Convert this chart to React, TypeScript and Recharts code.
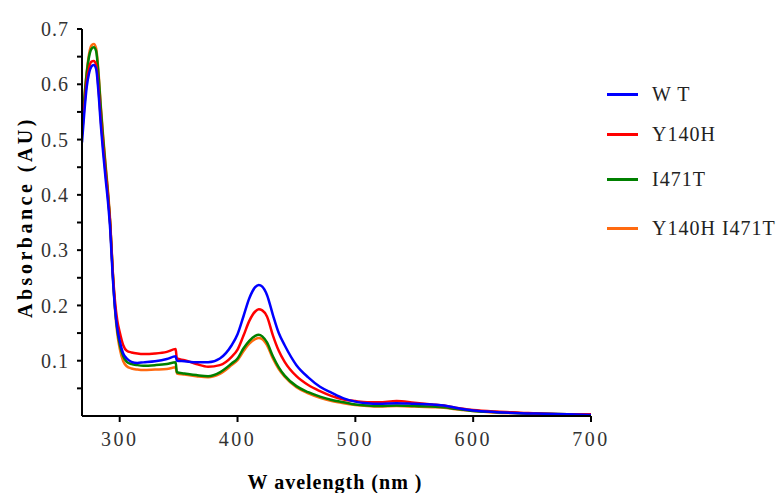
import { LineChart, Line, XAxis, YAxis, Label } from "recharts";

// wavelength grid (nm) shared by all four spectra
const wavelengths = [
  268, 270, 272, 274, 276, 278, 280, 282, 284, 286, 288, 290, 292, 294, 296, 298, 300,
  303, 306, 310, 315, 320, 330, 340, 347.5, 348.5, 355, 365, 375, 385, 395, 400, 405,
  410, 415, 418, 421, 425, 430, 435, 440, 450, 460, 470, 480, 490, 500, 510, 520, 535,
  550, 565, 575, 585, 600, 620, 640, 660, 680, 700,
];

const wt = [
  0.495, 0.55, 0.595, 0.62, 0.632, 0.635, 0.628, 0.585, 0.525, 0.475, 0.43, 0.388, 0.335, 0.255, 0.195, 0.158, 0.136,
  0.113, 0.104, 0.098, 0.096, 0.097, 0.099, 0.103, 0.108, 0.1, 0.099, 0.097, 0.097, 0.104, 0.128, 0.148, 0.18,
  0.213, 0.233, 0.237, 0.234, 0.219, 0.183, 0.15, 0.128, 0.092, 0.07, 0.053, 0.042, 0.032, 0.026, 0.023, 0.022, 0.023,
  0.022, 0.021, 0.019, 0.015, 0.01, 0.007, 0.005, 0.004, 0.003, 0.002,
];

const y140h = [
  0.51, 0.56, 0.605, 0.63, 0.641, 0.642, 0.635, 0.593, 0.535, 0.485, 0.44, 0.398, 0.345, 0.265, 0.208, 0.172, 0.152,
  0.128, 0.118, 0.115, 0.113, 0.112, 0.113, 0.116, 0.121, 0.104, 0.101, 0.094, 0.089, 0.092, 0.107, 0.12, 0.145,
  0.172, 0.189, 0.193, 0.191, 0.18, 0.146, 0.118, 0.098, 0.072, 0.056, 0.045, 0.036, 0.03, 0.027, 0.025, 0.025, 0.027,
  0.024, 0.021, 0.019, 0.015, 0.011, 0.008, 0.006, 0.004, 0.003, 0.003,
];

const i471t = [
  0.523, 0.575, 0.62, 0.65, 0.664, 0.667, 0.66, 0.617, 0.555, 0.5, 0.45, 0.403, 0.345, 0.262, 0.198, 0.155, 0.13,
  0.108, 0.098, 0.094, 0.092, 0.091, 0.092, 0.094, 0.097, 0.079, 0.077, 0.074, 0.072, 0.079, 0.095, 0.104, 0.122,
  0.136, 0.145, 0.147, 0.144, 0.133, 0.108, 0.088, 0.073, 0.054, 0.043, 0.035, 0.029, 0.025, 0.021, 0.019, 0.018, 0.019,
  0.018, 0.017, 0.016, 0.013, 0.009, 0.007, 0.005, 0.004, 0.003, 0.002,
];

const y140hI471t = [
  0.52, 0.575, 0.622, 0.655, 0.67, 0.673, 0.665, 0.622, 0.56, 0.505, 0.455, 0.408, 0.35, 0.265, 0.193, 0.148, 0.122,
  0.099, 0.09, 0.086, 0.084, 0.083, 0.084, 0.085, 0.088, 0.077, 0.075, 0.072, 0.07, 0.076, 0.092, 0.101, 0.117,
  0.131, 0.139, 0.141, 0.139, 0.128, 0.104, 0.085, 0.071, 0.052, 0.041, 0.033, 0.027, 0.023, 0.02, 0.018, 0.017, 0.018,
  0.017, 0.016, 0.015, 0.012, 0.009, 0.006, 0.005, 0.004, 0.003, 0.002,
];

const xTicks = [300, 400, 500, 600, 700];
const yMajor = [0.1, 0.2, 0.3, 0.4, 0.5, 0.6, 0.7];
const yMinor = [0.05, 0.15, 0.25, 0.35, 0.45, 0.55, 0.65];

// drawn back to front: orange, green, red, blue on top
const series = [
  { key: "y140hI471t", name: "Y140H I471T", color: "#ff6a10", values: y140hI471t },
  { key: "i471t", name: "I471T", color: "#008000", values: i471t },
  { key: "y140h", name: "Y140H", color: "#ff0000", values: y140h },
  { key: "wt", name: "W T", color: "#0000ff", values: wt },
];

const legendOrder = ["wt", "y140h", "i471t", "y140hI471t"];
const legendTops = [82, 122, 167, 216];

const data = wavelengths.map((wl, i) => {
  const row: Record<string, number> = { wl };
  series.forEach((s) => (row[s.key] = s.values[i]));
  return row;
});

const FONT = "'Liberation Serif', serif";
const allYTicks = [...yMinor, ...yMajor].sort((a, b) => a - b);

const fmtY = (v: number) =>
  yMajor.some((m) => Math.abs(m - v) < 1e-6) ? v.toFixed(1) : "";

export default function App() {
  return (
    <div style={{ position: "absolute", left: 0, top: 0, width: 780, height: 493, background: "#fff" }}>
      <LineChart
        width={780}
        height={493}
        data={data}
        margin={{ top: 29, right: 189, left: 22, bottom: 47 }}
      >
        <XAxis
          dataKey="wl"
          type="number"
          domain={[268, 700]}
          ticks={xTicks}
          allowDataOverflow
          height={30}
          stroke="#000"
          strokeWidth={2}
          tickSize={6}
          tickMargin={10}
          tick={{ fill: "#333", fontSize: 20, fontFamily: FONT, letterSpacing: 2.5 }}
        >
          <Label
            content={() => (
              <text
                x={335}
                y={489}
                textAnchor="middle"
                fontFamily={FONT}
                fontSize={20}
                fontWeight="bold"
                letterSpacing={1}
                fill="#000"
              >
                W avelength (nm )
              </text>
            )}
          />
        </XAxis>
        <YAxis
          type="number"
          domain={[0, 0.7]}
          ticks={allYTicks}
          tickFormatter={fmtY}
          allowDataOverflow
          width={60}
          stroke="#000"
          strokeWidth={2}
          tickSize={5}
          tickMargin={8}
          tick={{ fill: "#333", fontSize: 20, fontFamily: FONT, letterSpacing: 1 }}
        >
          <Label
            content={() => (
              <text
                x={32}
                y={217}
                transform="rotate(-90 32 217)"
                textAnchor="middle"
                fontFamily={FONT}
                fontSize={20}
                fontWeight="bold"
                letterSpacing={3.5}
                fill="#000"
              >
                Absorbance (AU)
              </text>
            )}
          />
        </YAxis>
        {series.map((s) => (
          <Line
            key={s.key}
            type="monotone"
            dataKey={s.key}
            stroke={s.color}
            strokeWidth={2.5}
            dot={false}
            isAnimationActive={false}
          />
        ))}
      </LineChart>

      {legendOrder.map((k, i) => {
        const s = series.find((x) => x.key === k)!;
        return (
          <div
            key={k}
            style={{
              position: "absolute",
              left: 607,
              top: legendTops[i],
              display: "flex",
              alignItems: "center",
              height: 24,
              fontFamily: FONT,
              fontSize: 20,
              letterSpacing: 1,
              color: "#222",
              whiteSpace: "pre",
            }}
          >
            <span style={{ width: 31, height: 3, background: s.color, marginRight: 14 }} />
            <span>{s.name}</span>
          </div>
        );
      })}
    </div>
  );
}
